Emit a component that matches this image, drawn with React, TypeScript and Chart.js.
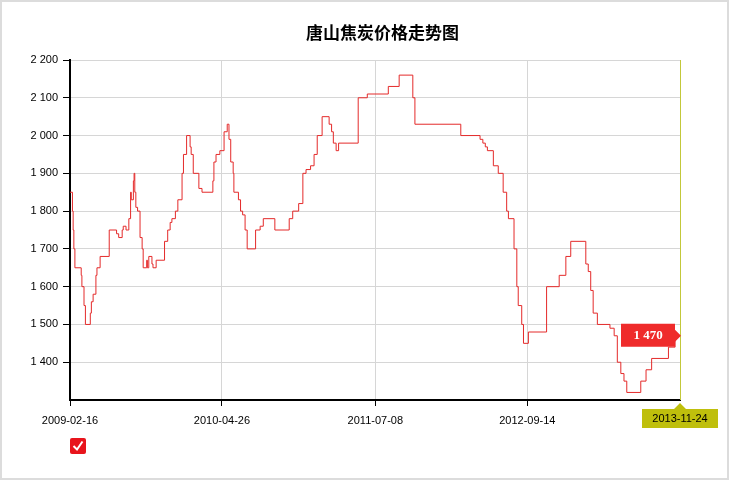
import React, { useEffect, useRef } from "react";
import { Chart, registerables } from "chart.js";

Chart.register(...registerables);

const chartTitle = "唐山焦炭价格走势图";
const startDate = "2009-02-16";
const endDate = "2013-11-24";
const tickDates = ["2009-02-16", "2010-04-26", "2011-07-08", "2012-09-14", "2013-11-24"];
const yMin = 1300;
const yMax = 2200;
const yStep = 100;

const priceDates = [
  "2009-02-16", "2009-02-23", "2009-02-25", "2009-02-27", "2009-03-02", "2009-03-20", "2009-03-22", "2009-03-28",
  "2009-04-01", "2009-04-15", "2009-04-18", "2009-04-23", "2009-05-01", "2009-05-04", "2009-05-13", "2009-06-08",
  "2009-06-29", "2009-07-05", "2009-07-15", "2009-07-18", "2009-07-26", "2009-08-03", "2009-08-08", "2009-08-10",
  "2009-08-16", "2009-08-18", "2009-08-20", "2009-08-23", "2009-08-28", "2009-09-04", "2009-09-10", "2009-09-13",
  "2009-09-23", "2009-09-25", "2009-09-29", "2009-10-08", "2009-10-11", "2009-10-20", "2009-11-13", "2009-11-22",
  "2009-11-29", "2009-12-04", "2009-12-14", "2009-12-21", "2010-01-02", "2010-01-06", "2010-01-15", "2010-01-25",
  "2010-01-28", "2010-02-03", "2010-02-19", "2010-02-28", "2010-03-31", "2010-04-03", "2010-04-09", "2010-04-20",
  "2010-05-02", "2010-05-11", "2010-05-16", "2010-05-21", "2010-05-28", "2010-05-30", "2010-06-12", "2010-06-18",
  "2010-06-24", "2010-07-01", "2010-07-07", "2010-07-31", "2010-08-13", "2010-08-22", "2010-09-24", "2010-11-04",
  "2010-11-14", "2010-12-01", "2010-12-13", "2010-12-22", "2011-01-04", "2011-01-14", "2011-01-23", "2011-02-06",
  "2011-02-26", "2011-03-05", "2011-03-10", "2011-03-18", "2011-03-25", "2011-05-20", "2011-06-15", "2011-08-14",
  "2011-09-14", "2011-10-23", "2011-10-29", "2012-03-08", "2012-05-02", "2012-05-10", "2012-05-17", "2012-05-23",
  "2012-06-09", "2012-06-23", "2012-07-07", "2012-07-17", "2012-07-22", "2012-08-07", "2012-08-15", "2012-08-19",
  "2012-08-29", "2012-09-03", "2012-09-17", "2012-11-08", "2012-12-14", "2013-01-02", "2013-01-16", "2013-02-28",
  "2013-03-07", "2013-03-14", "2013-03-21", "2013-04-02", "2013-05-08", "2013-05-20", "2013-05-29", "2013-06-08",
  "2013-06-17", "2013-06-25", "2013-08-04", "2013-08-19", "2013-09-04", "2013-10-22", "2013-11-10", "2013-11-24",
];

const priceValues = [
  1850, 1800, 1750, 1700, 1650, 1630, 1600, 1550,
  1500, 1530, 1560, 1580, 1630, 1650, 1680, 1750,
  1740, 1730, 1750, 1760, 1750, 1780, 1850, 1830,
  1880, 1900, 1850, 1810, 1800, 1730, 1700, 1650,
  1670, 1650, 1680, 1660, 1650, 1670, 1720, 1750,
  1770, 1780, 1800, 1830, 1900, 1950, 2000, 1970,
  1950, 1900, 1860, 1850, 1880, 1930, 1950, 1960,
  2010, 2030, 1990, 1930, 1900, 1850, 1830, 1800,
  1790, 1750, 1700, 1750, 1760, 1780, 1750, 1780,
  1800, 1820, 1900, 1910, 1920, 1950, 2000, 2050,
  2030, 2010, 1980, 1960, 1980, 2100, 2110, 2130,
  2160, 2100, 2030, 2000, 1990, 1980, 1970, 1960,
  1920, 1900, 1850, 1800, 1780, 1700, 1600, 1550,
  1500, 1450, 1480, 1600, 1630, 1680, 1720, 1660,
  1640, 1590, 1530, 1500, 1490, 1470, 1400, 1370,
  1350, 1320, 1350, 1380, 1410, 1440, 1470, 1470,
];

const DAY = 86400000;
const dayOffset = (d: string) => Math.round((Date.parse(d) - Date.parse(startDate)) / DAY);
const fmt = (v: number) => String(Math.round(v)).replace(/\B(?=(\d{3})+(?!\d))/g, " ");

const overlayPlugin = {
  id: "overlay",
  afterDatasetsDraw(chart: any) {
    const { ctx, chartArea, scales } = chart;
    const last = priceValues.length - 1;
    const px = Math.round(scales.x.getPixelForValue(dayOffset(priceDates[last])));
    const py = scales.y.getPixelForValue(priceValues[last]);
    ctx.save();
    // current-date vertical line
    ctx.strokeStyle = "#c3c83a";
    ctx.lineWidth = 1;
    ctx.beginPath();
    ctx.moveTo(px + 0.5, chartArea.top);
    ctx.lineTo(px + 0.5, chartArea.bottom);
    ctx.stroke();

    // red value tag
    ctx.fillStyle = "#ef2b2b";
    const bx0 = px - 59, bx1 = px - 5;
    ctx.beginPath();
    ctx.moveTo(bx0, py - 12);
    ctx.lineTo(bx1, py - 12);
    ctx.lineTo(bx1, py - 6);
    ctx.lineTo(px + 1, py);
    ctx.lineTo(bx1, py + 6);
    ctx.lineTo(bx1, py + 11);
    ctx.lineTo(bx0, py + 11);
    ctx.closePath();
    ctx.fill();
    ctx.fillStyle = "#ffffff";
    ctx.font = "bold 13px 'Liberation Serif'";
    ctx.textAlign = "center";
    ctx.textBaseline = "middle";
    ctx.fillText(fmt(priceValues[last]), (bx0 + bx1) / 2, py);

    // olive date tag
    const by = chartArea.bottom;
    ctx.fillStyle = "#bfbf0c";
    ctx.beginPath();
    ctx.moveTo(px - 38, by + 9);
    ctx.lineTo(px - 6, by + 9);
    ctx.lineTo(px, by + 3);
    ctx.lineTo(px + 6, by + 9);
    ctx.lineTo(px + 38, by + 9);
    ctx.lineTo(px + 38, by + 28);
    ctx.lineTo(px - 38, by + 28);
    ctx.closePath();
    ctx.fill();
    ctx.fillStyle = "#000000";
    ctx.font = "11px 'Liberation Sans'";
    ctx.fillText(priceDates[last], px, by + 19);
    ctx.restore();
  },
};

export default function App() {
  const canvasRef = useRef<HTMLCanvasElement | null>(null);

  useEffect(() => {
    if (!canvasRef.current) return;
    const tickValues = tickDates.map(dayOffset);
    const lastTick = tickValues[tickValues.length - 1];
    const chart = new Chart(canvasRef.current, {
      type: "line",
      data: {
        datasets: [
          {
            label: chartTitle,
            data: priceDates.map((d, i) => ({ x: dayOffset(d), y: priceValues[i] })),
            borderColor: "#e42a2a",
            borderWidth: 1,
            pointRadius: 0,
            stepped: true,
            fill: false,
          },
        ],
      },
      options: {
        responsive: false,
        animation: false,
        events: [],
        layout: { padding: { top: 60, right: 50, left: 0, bottom: 0 } },
        plugins: {
          legend: { display: false },
          title: { display: false },
          tooltip: { enabled: false },
        },
        scales: {
          x: {
            type: "linear",
            min: dayOffset(startDate),
            max: dayOffset(endDate),
            afterBuildTicks: (scale: any) => {
              scale.ticks = tickValues.map((v) => ({ value: v }));
            },
            afterFit: (scale: any) => {
              scale.height = 80;
            },
            border: { display: true, color: "#000000", width: 2 },
            grid: {
              color: (c: any) =>
                c.tick && (c.tick.value === tickValues[0] || c.tick.value === lastTick) ? "rgba(0,0,0,0)" : "#d6d6d6",
              tickColor: (c: any) => (c.tick && c.tick.value === lastTick ? "rgba(0,0,0,0)" : "#000000"),
              tickLength: 6,
              lineWidth: 1,
            },
            ticks: {
              autoSkip: false,
              maxRotation: 0,
              padding: 8,
              color: "#000000",
              font: { family: "'Liberation Sans'", size: 11 },
              callback: (v: any) => {
                const i = tickValues.indexOf(v);
                return i < 0 || v === lastTick ? "" : tickDates[i];
              },
            },
          },
          y: {
            min: yMin,
            max: yMax,
            afterFit: (scale: any) => {
              scale.width = 70;
            },
            border: { display: true, color: "#000000", width: 2 },
            grid: {
              color: (c: any) => (c.tick && c.tick.value === yMin ? "rgba(0,0,0,0)" : "#d6d6d6"),
              tickColor: (c: any) => (c.tick && c.tick.value === yMin ? "rgba(0,0,0,0)" : "#000000"),
              tickLength: 7,
              lineWidth: 1,
            },
            ticks: {
              stepSize: yStep,
              padding: 5,
              color: "#000000",
              font: { family: "'Liberation Sans'", size: 11 },
              callback: (v: any) => (v === yMin ? "" : fmt(v)),
            },
          },
        },
      },
      plugins: [overlayPlugin],
    });
    return () => chart.destroy();
  }, []);

  return (
    <div
      style={{
        position: "fixed",
        left: 0,
        top: 0,
        width: 730,
        height: 480,
        background: "#ffffff",
      }}
    >
      <div
        style={{
          position: "absolute",
          left: 0,
          top: 0,
          width: 729,
          height: 480,
          boxSizing: "border-box",
          border: "2px solid #dcdcdc",
        }}
      />
      <canvas ref={canvasRef} width={730} height={480} style={{ position: "absolute", left: 0, top: 0, display: "block" }} />
      <div
        style={{
          position: "absolute",
          left: 306,
          top: 23,
          fontFamily: "'Noto Sans CJK SC', sans-serif",
          fontWeight: "bold",
          fontSize: 17,
          lineHeight: "17px",
          color: "#000",
          whiteSpace: "nowrap",
        }}
      >
        {chartTitle}
      </div>
      <div
        style={{
          position: "absolute",
          left: 70,
          top: 438,
          width: 16,
          height: 16,
          borderRadius: 2,
          background: "#e8141c",
        }}
      >
        <svg width="16" height="16" viewBox="0 0 16 16" style={{ display: "block" }}>
          <polyline points="3.5,8 7,11.5 12.5,3.5" fill="none" stroke="#ffffff" strokeWidth="2" />
        </svg>
      </div>
    </div>
  );
}
